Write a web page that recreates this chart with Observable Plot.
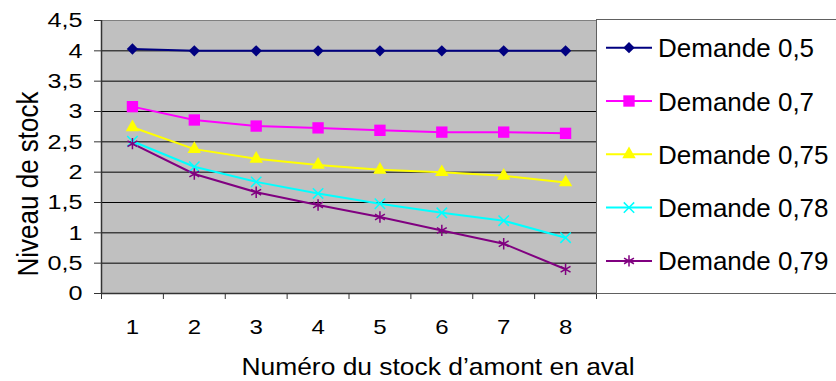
<!DOCTYPE html>
<html>
<head>
<meta charset="utf-8">
<script src="https://cdn.jsdelivr.net/npm/d3@7"></script>
<script src="https://cdn.jsdelivr.net/npm/@observablehq/plot@0.6"></script>
<style>
html, body { margin: 0; padding: 0; background: #fff; }
#wrap { position: relative; width: 836px; height: 381px; overflow: hidden; }
svg { display: block; }
</style>
</head>
<body>
<div id="wrap"></div>
<script>
// ---- data ----
const stocks = [1, 2, 3, 4, 5, 6, 7, 8];
const seriesNames = ["Demande 0,5", "Demande 0,7", "Demande 0,75", "Demande 0,78", "Demande 0,79"];
const demande05  = [4.03, 4.00, 4.00, 4.00, 4.00, 4.00, 4.00, 4.00];
const demande07  = [3.08, 2.86, 2.76, 2.73, 2.69, 2.66, 2.66, 2.64];
const demande075 = [2.74, 2.38, 2.22, 2.12, 2.04, 2.00, 1.94, 1.83];
const demande078 = [2.51, 2.09, 1.84, 1.65, 1.48, 1.33, 1.20, 0.92];
const demande079 = [2.47, 1.97, 1.67, 1.46, 1.26, 1.04, 0.82, 0.40];
const yTicks = [0, 0.5, 1, 1.5, 2, 2.5, 3, 3.5, 4, 4.5];
const xTitle = "Numéro du stock d’amont en aval";
const yTitle = "Niveau de stock";

// ---- styling ----
const colors = ["#000080", "#FF00FF", "#FFFF00", "#00FFFF", "#800080"];
const symbols = ["diamond2", "square", "triangle", "times", "asterisk"];
const filled = [true, true, true, false, false];
const radii = [5.1, 6.4, 5.0, 4.8, 5.4];
const FONT = "'Liberation Sans', Arial, sans-serif";
const SX = 1.2; // horizontal stretch of the reference picture

const seriesValues = [demande05, demande07, demande075, demande078, demande079];
const rows = seriesNames.flatMap((s, i) => stocks.map((x, j) => ({series: s, x, y: seriesValues[i][j]})));
const boundaries = d3.range(stocks.length + 1).map(i => stocks[0] - 0.5 + i);
const fmt = d => String(d).replace(".", ",");

const chart = Plot.plot({
  width: 836,
  height: 381,
  marginLeft: 101,
  marginRight: 240,
  marginTop: 20,
  marginBottom: 88,
  style: {fontFamily: FONT, fontSize: "20px", color: "#000", background: "transparent"},
  x: {domain: [boundaries[0], boundaries[boundaries.length - 1]], axis: null},
  y: {domain: [0, 4.5], axis: null},
  color: {domain: seriesNames, range: colors},
  marks: [
    Plot.frame({fill: "#C0C0C0", stroke: "#808080"}),
    Plot.gridY(yTicks.slice(1, -1), {stroke: "#000", strokeOpacity: 1, strokeWidth: 1}),
    Plot.axisY(yTicks, {tickSize: 7, tickPadding: 12, tickFormat: fmt, fontSize: 21, label: null, stroke: "#333"}),
    Plot.axisX(boundaries, {tickSize: 6, tickFormat: () => "", label: null, stroke: "#333"}),
    Plot.axisX(stocks, {tickSize: 0, tickPadding: 26, tickFormat: d => String(d), fontSize: 20, label: null}),
    Plot.ruleX([boundaries[0]], {stroke: "#333", strokeWidth: 1.5}),
    Plot.ruleY([0], {stroke: "#333", strokeWidth: 1.5}),
    Plot.line(rows, {x: "x", y: "y", stroke: "series", strokeWidth: 2}),
    ...seriesNames.map((s, i) => Plot.dot(rows.filter(d => d.series === s), {
      x: "x", y: "y", symbol: symbols[i], r: radii[i],
      fill: filled[i] ? colors[i] : "none",
      stroke: filled[i] ? "none" : colors[i],
      strokeWidth: 1.5
    }))
  ]
});

document.getElementById("wrap").appendChild(chart);

function stretch(el, k) {
  const x = +el.getAttribute("x") || 0, y = +el.getAttribute("y") || 0;
  const t = el.getAttribute("transform") || "";
  el.setAttribute("transform", `${t} translate(${x},${y}) scale(${k},1) translate(${-x},${-y})`);
}
chart.querySelectorAll("text").forEach(t => stretch(t, SX));

const svg = d3.select(chart);

// axis titles
svg.append("text")
  .attr("transform", `translate(438,375) scale(1.1,1)`)
  .attr("text-anchor", "middle")
  .attr("font-family", FONT).attr("font-size", 24).attr("fill", "#000")
  .text(xTitle);

svg.append("text")
  .attr("transform", `translate(38,184) scale(1.12,1) rotate(-90)`)
  .attr("text-anchor", "middle")
  .attr("font-family", FONT).attr("font-size", 26).attr("fill", "#000")
  .text(yTitle);

// legend
const lg = svg.append("g");
lg.append("rect").attr("x", 596.5).attr("y", 19.5).attr("width", 300).attr("height", 274)
  .attr("fill", "#fff").attr("stroke", "#606060");
const symMap = {diamond2: d3.symbolDiamond2, square: d3.symbolSquare, triangle: d3.symbolTriangle, times: d3.symbolTimes, asterisk: d3.symbolAsterisk};
seriesNames.forEach((s, i) => {
  const cy = 47.7 + i * 53.3;
  const g = lg.append("g");
  g.append("line").attr("x1", 606).attr("x2", 652).attr("y1", cy).attr("y2", cy)
    .attr("stroke", colors[i]).attr("stroke-width", 2);
  g.append("path")
    .attr("transform", `translate(629,${cy})`)
    .attr("d", d3.symbol(symMap[symbols[i]], radii[i] * radii[i] * Math.PI)())
    .attr("fill", filled[i] ? colors[i] : "none")
    .attr("stroke", filled[i] ? "none" : colors[i])
    .attr("stroke-width", 1.5);
  g.append("text")
    .attr("transform", `translate(658,${cy + 9.5}) scale(1.04,1)`)
    .attr("text-anchor", "start")
    .attr("font-family", FONT).attr("font-size", 25).attr("fill", "#000")
    .text(s);
});
</script>
</body>
</html>
